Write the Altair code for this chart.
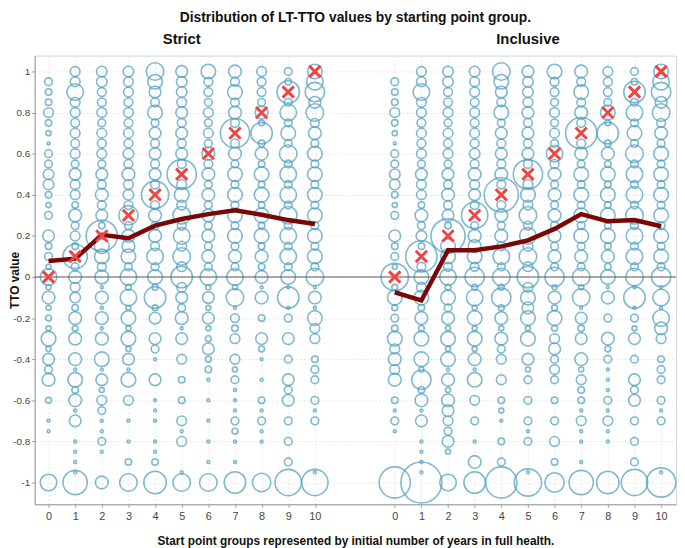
import altair as alt
import pandas as pd

# ---------------- data ----------------
TTO_LEVELS = [1.0, 0.95, 0.9, 0.85, 0.8, 0.75, 0.7, 0.65, 0.6, 0.55, 0.5, 0.45, 0.4, 0.35, 0.3, 0.25,
              0.2, 0.15, 0.1, 0.05, 0.0, -0.05, -0.1, -0.15, -0.2, -0.25, -0.3, -0.35, -0.4, -0.45,
              -0.5, -0.55, -0.6, -0.65, -0.7, -0.75, -0.8, -0.85, -0.9, -0.95, -1.0]
GROUPS = [0, 1, 2, 3, 4, 5, 6, 7, 8, 9, 10]
PANELS = ["Strict", "Inclusive"]
PANEL_SHIFT = {"Strict": 0, "Inclusive": 13}

# counts of responses per TTO level (1.0 ... -1.0), Strict
S0 = [0, 7, 5, 5, 11, 5, 3, 1, 7, 7, 13, 13, 5, 3, 7, 0, 16, 5, 7, 3, 32,
      3, 19, 3, 4, 3, 25, 3, 16, 7, 19, 0, 4, 0, 1, 1, 0, 0, 0, 0, 32]
S1 = [11, 11, 32, 11, 11, 9, 11, 9, 11, 7, 16, 11, 11, 5, 19, 7, 11, 5, 69, 7, 19,
      11, 13, 5, 19, 4, 19, 0, 19, 1, 25, 5, 19, 1, 16, 0, 1, 1, 1, 1, 69]
S2 = [13, 13, 9, 9, 11, 7, 11, 9, 11, 7, 16, 9, 19, 9, 16, 5, 114, 25, 25, 9, 22,
      1, 19, 1, 19, 1, 19, 0, 25, 1, 16, 3, 11, 7, 1, 1, 7, 1, 0, 0, 19]
S3 = [13, 11, 11, 9, 11, 9, 11, 9, 13, 9, 19, 11, 13, 9, 44, 7, 19, 19, 25, 7, 32,
      4, 32, 3, 25, 3, 25, 3, 16, 1, 25, 0, 11, 0, 1, 0, 1, 0, 5, 0, 36]
S4 = [36, 25, 16, 9, 25, 7, 16, 9, 16, 9, 16, 9, 87, 9, 19, 7, 19, 9, 32, 7, 25,
      4, 54, 4, 16, 0, 16, 7, 1, 0, 16, 0, 1, 1, 1, 0, 1, 1, 5, 0, 59]
S5 = [16, 13, 13, 11, 16, 9, 16, 9, 16, 9, 100, 11, 25, 11, 36, 9, 32, 11, 36, 11, 54,
      11, 16, 7, 19, 1, 16, 0, 11, 0, 5, 0, 5, 0, 11, 1, 11, 0, 0, 1, 36]
S6 = [25, 9, 9, 7, 11, 7, 11, 7, 19, 9, 19, 7, 19, 7, 19, 7, 19, 7, 19, 7, 32,
      3, 16, 3, 16, 3, 4, 16, 4, 5, 1, 0, 1, 0, 1, 0, 1, 0, 1, 0, 36]
S7 = [19, 9, 25, 9, 19, 9, 100, 9, 19, 7, 25, 7, 25, 7, 25, 7, 25, 7, 19, 7, 32,
      3, 36, 1, 9, 5, 11, 0, 11, 3, 7, 1, 1, 1, 7, 4, 1, 0, 1, 0, 54]
S8 = [11, 9, 9, 7, 19, 4, 54, 5, 19, 5, 25, 5, 25, 5, 25, 5, 25, 5, 19, 5, 19,
      1, 19, 0, 5, 0, 16, 4, 1, 0, 1, 0, 5, 1, 7, 1, 1, 0, 0, 0, 40]
S9 = [7, 5, 59, 7, 32, 7, 25, 7, 36, 7, 32, 7, 32, 7, 36, 7, 32, 7, 32, 7, 25,
      1, 54, 1, 7, 0, 16, 0, 7, 0, 16, 7, 16, 0, 7, 0, 7, 0, 7, 0, 81]
S10 = [25, 32, 44, 16, 36, 9, 19, 7, 25, 7, 25, 7, 25, 7, 25, 7, 25, 7, 25, 7, 36,
       1, 19, 1, 25, 11, 11, 0, 5, 7, 7, 0, 7, 1, 7, 0, 0, 0, 0, 1, 81]

# Inclusive
I0 = [0, 7, 5, 5, 11, 5, 3, 1, 7, 7, 13, 13, 5, 3, 7, 0, 16, 5, 7, 3, 87,
      4, 25, 4, 7, 5, 25, 11, 19, 11, 19, 0, 5, 1, 7, 1, 0, 0, 0, 0, 114]
I1 = [11, 11, 32, 11, 11, 9, 11, 9, 11, 7, 16, 11, 11, 5, 19, 7, 13, 5, 114, 9, 25,
      11, 25, 5, 19, 4, 25, 0, 25, 3, 44, 5, 19, 1, 16, 0, 1, 1, 1, 1, 196]
I2 = [13, 13, 9, 9, 11, 7, 11, 9, 11, 7, 16, 9, 19, 9, 16, 5, 136, 25, 25, 9, 32,
      4, 25, 7, 19, 3, 25, 3, 25, 1, 19, 3, 19, 16, 11, 7, 16, 3, 0, 0, 32]
I3 = [13, 11, 11, 9, 11, 9, 11, 9, 13, 9, 19, 11, 16, 9, 81, 7, 19, 19, 25, 9, 44,
      4, 32, 3, 25, 3, 25, 3, 19, 1, 25, 0, 11, 0, 7, 0, 1, 0, 19, 0, 54]
I4 = [36, 25, 16, 9, 25, 7, 16, 9, 16, 9, 19, 9, 136, 9, 19, 7, 19, 9, 32, 7, 36,
      4, 44, 4, 19, 3, 19, 7, 11, 0, 11, 0, 5, 3, 1, 0, 5, 0, 7, 0, 114]
I5 = [16, 13, 13, 11, 16, 9, 16, 9, 16, 9, 100, 11, 25, 11, 36, 9, 32, 11, 36, 11, 54,
      11, 25, 16, 25, 3, 25, 0, 16, 3, 7, 0, 7, 0, 7, 1, 7, 0, 0, 1, 87]
I6 = [25, 9, 9, 7, 11, 7, 11, 7, 32, 9, 19, 7, 19, 7, 19, 7, 19, 7, 19, 7, 44,
      3, 19, 4, 25, 4, 11, 16, 7, 11, 7, 0, 5, 0, 7, 0, 11, 0, 5, 0, 44]
I7 = [19, 9, 25, 9, 19, 9, 114, 9, 19, 7, 25, 7, 25, 7, 25, 7, 25, 7, 19, 7, 36,
      3, 36, 1, 16, 5, 16, 0, 19, 3, 11, 5, 5, 1, 11, 1, 1, 0, 1, 0, 69]
I8 = [11, 9, 9, 7, 25, 4, 54, 5, 19, 5, 25, 5, 25, 5, 25, 5, 25, 5, 19, 5, 25,
      1, 19, 0, 7, 0, 19, 4, 7, 1, 1, 1, 7, 1, 11, 1, 1, 0, 0, 0, 59]
I9 = [7, 5, 54, 7, 32, 7, 25, 7, 36, 7, 32, 7, 32, 7, 36, 7, 32, 7, 32, 7, 36,
      1, 54, 1, 7, 3, 16, 0, 7, 0, 16, 7, 16, 0, 7, 0, 7, 0, 7, 0, 81]
I10 = [25, 32, 44, 16, 36, 9, 19, 7, 25, 7, 25, 7, 25, 7, 25, 7, 25, 7, 25, 7, 44,
       1, 32, 1, 32, 19, 11, 0, 5, 7, 7, 0, 7, 1, 7, 0, 0, 0, 0, 1, 100]

STRICT = [S0, S1, S2, S3, S4, S5, S6, S7, S8, S9, S10]
INCLUSIVE = [I0, I1, I2, I3, I4, I5, I6, I7, I8, I9, I10]

MEAN_STRICT = [0.078, 0.089, 0.205, 0.189, 0.25, 0.282, 0.306, 0.325, 0.303, 0.277, 0.258]
MEAN_INCLUSIVE = [-0.075, -0.114, 0.13, 0.13, 0.149, 0.178, 0.234, 0.306, 0.271, 0.277, 0.247]
START_VALUE = [0.0, 0.1, 0.2, 0.3, 0.4, 0.5, 0.6, 0.7, 0.8, 0.9, 1.0]

X_TICKS = [0, 1, 2, 3, 4, 5, 6, 7, 8, 9, 10, 13, 14, 15, 16, 17, 18, 19, 20, 21, 22, 23]
Y_TICKS = [-1, -0.8, -0.6, -0.4, -0.2, 0, 0.2, 0.4, 0.6, 0.8, 1]

# ---------------- tables ----------------
rows = []
for panel, cols in zip(PANELS, [STRICT, INCLUSIVE]):
    for g, counts in zip(GROUPS, cols):
        for lvl, n in zip(TTO_LEVELS, counts):
            if n > 0:
                rows.append({"panel": panel, "pos": g + PANEL_SHIFT[panel], "tto": lvl, "n": n})
circles_df = pd.DataFrame(rows)

mrows, xrows = [], []
for panel, means in zip(PANELS, [MEAN_STRICT, MEAN_INCLUSIVE]):
    for g, m, s in zip(GROUPS, means, START_VALUE):
        mrows.append({"panel": panel, "pos": g + PANEL_SHIFT[panel], "mean": m})
        xrows.append({"panel": panel, "pos": g + PANEL_SHIFT[panel], "start": s})
mean_df = pd.DataFrame(mrows)
start_df = pd.DataFrame(xrows)
head_df = pd.DataFrame({"pos": [5 + PANEL_SHIFT["Strict"], 5 + PANEL_SHIFT["Inclusive"]], "label": PANELS})

# ---------------- chart ----------------
xscale = alt.Scale(domain=[-0.52, 23.56], nice=False, zero=False)
yscale = alt.Scale(domain=[-1.106, 1.077], nice=False, zero=False)

xaxis = alt.Axis(values=X_TICKS,
                 labelExpr="toString(datum.value >= 13 ? datum.value - 13 : datum.value)",
                 labelOverlap=False, labelFlush=False,
                 title="Start point groups represented by initial number of years in full health.",
                 titleFontSize=12, titleFontWeight="bold", titleColor="#111", titlePadding=15,
                 labelFontSize=11, labelColor="#444", tickSize=3, tickColor="#999",
                 domainColor="#999", grid=True, gridColor="#e8e8e8", gridDash=[2, 2], labelPadding=3)
yaxis = alt.Axis(values=Y_TICKS, labelExpr="toString(datum.value)", labelOverlap=False,
                 title="TTO value", titleFontSize=12, titleFontWeight="bold", titleColor="#111",
                 titleX=-13, labelFontSize=10, labelColor="#444", tickSize=3, tickColor="#999",
                 domainColor="#999", grid=True, gridColor="#e8e8e8", gridDash=[2, 2], labelPadding=2)

X = alt.X("pos:Q", scale=xscale, axis=xaxis)


def Y(field):
    return alt.Y(field, scale=yscale, axis=yaxis)


circles = alt.Chart(circles_df).mark_point(
    shape="circle", filled=False, strokeWidth=1.6, color="#4f9fc0", opacity=0.72
).encode(
    x=X,
    y=Y("tto:Q"),
    size=alt.Size("n:Q", scale=alt.Scale(domain=[0, 200], range=[0, 1750]), legend=None),
)

zero = alt.Chart(pd.DataFrame({"z": [0]})).mark_rule(color="#555", strokeWidth=1).encode(
    y=Y("z:Q")
)

mean_line = alt.Chart(mean_df).mark_line(color="#7a0606", strokeWidth=4.5).encode(
    x=X,
    y=Y("mean:Q"),
    detail="panel:N",
)

crosses = alt.Chart(start_df).mark_point(
    shape="M-1,-1L1,1M-1,1L1,-1", filled=False, strokeWidth=3, color="#f04545", size=130, opacity=1
).encode(
    x=X,
    y=Y("start:Q"),
)

headers = alt.Chart(head_df).mark_text(
    fontSize=15, fontWeight="bold", color="#111", baseline="middle", align="center"
).encode(
    x=X,
    y=alt.value(-17),
    text="label:N",
)

chart = alt.layer(circles, zero, mean_line, crosses, headers).properties(
    width=649, height=454,
    title=alt.TitleParams("Distribution of LT-TTO values by starting point group.",
                          fontSize=14, fontWeight="bold", color="#111", anchor="middle", offset=7),
    autosize=alt.AutoSizeParams(type="none"),
    padding={"left": 27, "top": 45, "right": 1, "bottom": 41},
).configure(font="Liberation Sans").configure_view(stroke="#d6d6d6").configure_axis(labelOverlap=False)

chart.save("out.html", embed_options={"renderer": "svg", "actions": False})
